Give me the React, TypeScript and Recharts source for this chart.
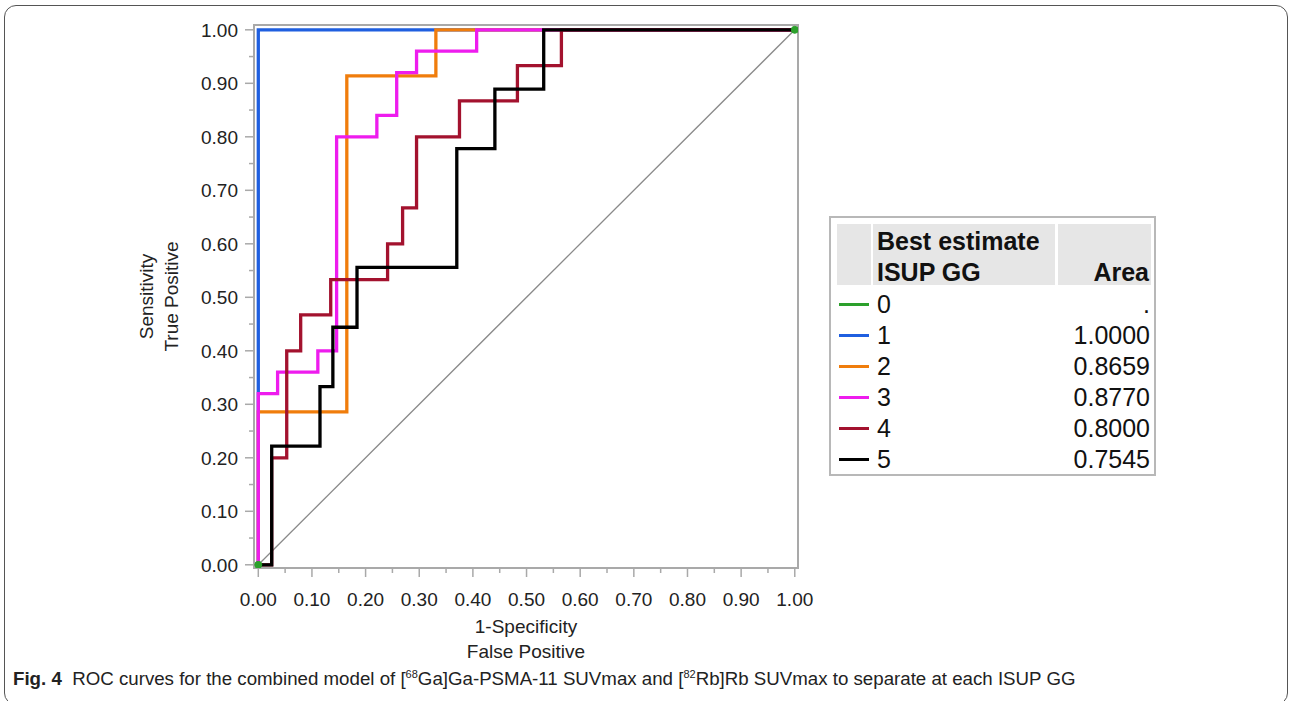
import React from 'react';
import { LineChart, Line, XAxis, YAxis, ReferenceArea, Label } from 'recharts';

// ROC step points: each point is the corner reached after the vertical jump
const grade0 = [
  { x: 0, y: 0 },
  { x: 1, y: 1 },
];
const grade1 = [
  { x: 0, y: 0 },
  { x: 0, y: 1 },
  { x: 1, y: 1 },
];
const grade2 = [
  { x: 0, y: 0 },
  { x: 0, y: 0.286 },
  { x: 0.165, y: 0.914 },
  { x: 0.331, y: 1 },
  { x: 1, y: 1 },
];
const grade3 = [
  { x: 0, y: 0 },
  { x: 0, y: 0.32 },
  { x: 0.036, y: 0.36 },
  { x: 0.111, y: 0.4 },
  { x: 0.146, y: 0.8 },
  { x: 0.221, y: 0.84 },
  { x: 0.258, y: 0.92 },
  { x: 0.295, y: 0.96 },
  { x: 0.407, y: 1 },
  { x: 1, y: 1 },
];
const grade4 = [
  { x: 0, y: 0 },
  { x: 0.025, y: 0.2 },
  { x: 0.053, y: 0.4 },
  { x: 0.079, y: 0.467 },
  { x: 0.135, y: 0.533 },
  { x: 0.241, y: 0.6 },
  { x: 0.269, y: 0.667 },
  { x: 0.295, y: 0.8 },
  { x: 0.375, y: 0.867 },
  { x: 0.483, y: 0.933 },
  { x: 0.565, y: 1 },
  { x: 1, y: 1 },
];
const grade5 = [
  { x: 0, y: 0 },
  { x: 0.025, y: 0.222 },
  { x: 0.115, y: 0.333 },
  { x: 0.139, y: 0.444 },
  { x: 0.184, y: 0.556 },
  { x: 0.37, y: 0.778 },
  { x: 0.441, y: 0.889 },
  { x: 0.532, y: 1 },
  { x: 1, y: 1 },
];
const diagonal = [
  { x: 0, y: 0 },
  { x: 1, y: 1 },
];

const legendLevels = ['0', '1', '2', '3', '4', '5'];
const legendAreas = ['.', '1.0000', '0.8659', '0.8770', '0.8000', '0.7545'];
const legendColors = ['#2ca02c', '#1f5fe0', '#f07d0c', '#ee1cee', '#a3122e', '#000000'];

// major ticks get labels, the ones in between are minor
const axisTicks = [0, 0.05, 0.1, 0.15, 0.2, 0.25, 0.3, 0.35, 0.4, 0.45, 0.5, 0.55, 0.6, 0.65, 0.7, 0.75, 0.8, 0.85, 0.9, 0.95, 1];

const FONT = '"Liberation Sans", Arial, Helvetica, sans-serif';
const GRID = '#a9a9a9';

const isMajor = (v: number) => Math.round(v * 100) % 10 === 0;

function XTick(props: any) {
  const { x, y, payload } = props;
  const major = isMajor(payload.value);
  return (
    <g>
      <line x1={x} x2={x} y1={y} y2={y + (major ? 9 : 5)} stroke={GRID} strokeWidth={1.5} />
      {major && (
        <text x={x} y={y + 38} textAnchor="middle" fontSize={19} fill="#222" fontFamily={FONT}>
          {payload.value.toFixed(2)}
        </text>
      )}
    </g>
  );
}

function YTick(props: any) {
  const { x, y, payload } = props;
  const major = isMajor(payload.value);
  return (
    <g>
      <line x1={x} x2={x - (major ? 9 : 5)} y1={y} y2={y} stroke={GRID} strokeWidth={1.5} />
      {major && (
        <text x={x - 16} y={y + 7} textAnchor="end" fontSize={19} fill="#222" fontFamily={FONT}>
          {payload.value.toFixed(2)}
        </text>
      )}
    </g>
  );
}

function XTitle({ viewBox }: any) {
  const cx = viewBox.x + viewBox.width / 2;
  return (
    <g fontFamily={FONT} fontSize={19} fill="#222" textAnchor="middle">
      <text x={cx} y={viewBox.y + 65}>1-Specificity</text>
      <text x={cx} y={viewBox.y + 90}>False Positive</text>
    </g>
  );
}

function YTitle({ viewBox }: any) {
  const cy = viewBox.y + viewBox.height / 2;
  const x1 = viewBox.x - 11;
  const x2 = viewBox.x + 14;
  return (
    <g fontFamily={FONT} fontSize={19} fill="#222" textAnchor="middle">
      <text x={x1} y={cy} transform={`rotate(-90 ${x1} ${cy})`}>Sensitivity</text>
      <text x={x2} y={cy} transform={`rotate(-90 ${x2} ${cy})`}>True Positive</text>
    </g>
  );
}

const xDomain = [-0.008, 1.006];
const yDomain = [-0.006, 1.009];

export default function App() {
  return (
    <div style={{ position: 'absolute', left: 0, top: 0, width: 1290, height: 701, background: '#fff', overflow: 'hidden' }}>
      <div
        style={{
          position: 'absolute',
          left: 4,
          top: 5,
          width: 1284,
          height: 700,
          border: '1.5px solid #555',
          borderRadius: 12,
          boxSizing: 'border-box',
        }}
      />
      <div style={{ position: 'absolute', left: 0, top: 0 }}>
        <LineChart width={820} height={670} margin={{ top: 25, right: 22, left: 164, bottom: 0 }}>
          <XAxis
            type="number"
            dataKey="x"
            domain={xDomain}
            ticks={axisTicks}
            interval={0}
            allowDataOverflow
            height={102}
            axisLine={false}
            tickLine={false}
            tickSize={0}
            tickMargin={0}
            tick={<XTick />}
          >
            <Label content={<XTitle />} />
          </XAxis>
          <YAxis
            type="number"
            dataKey="y"
            domain={yDomain}
            ticks={axisTicks}
            interval={0}
            allowDataOverflow
            width={90}
            axisLine={false}
            tickLine={false}
            tickSize={0}
            tickMargin={0}
            tick={<YTick />}
          >
            <Label content={<YTitle />} />
          </YAxis>
          <ReferenceArea
            x1={xDomain[0]}
            x2={xDomain[1]}
            y1={yDomain[0]}
            y2={yDomain[1]}
            fill="none"
            stroke={GRID}
            strokeWidth={2}
            ifOverflow="visible"
          />
          <Line data={diagonal} dataKey="y" type="linear" stroke="#8a8a8a" strokeWidth={1.3} dot={false} isAnimationActive={false} />
          <Line data={grade1} dataKey="y" type="stepAfter" stroke={legendColors[1]} strokeWidth={3.3} dot={false} isAnimationActive={false} />
          <Line data={grade2} dataKey="y" type="stepAfter" stroke={legendColors[2]} strokeWidth={3.3} dot={false} isAnimationActive={false} />
          <Line data={grade3} dataKey="y" type="stepAfter" stroke={legendColors[3]} strokeWidth={3.3} dot={false} isAnimationActive={false} />
          <Line data={grade4} dataKey="y" type="stepAfter" stroke={legendColors[4]} strokeWidth={3.3} dot={false} isAnimationActive={false} />
          <Line data={grade5} dataKey="y" type="stepAfter" stroke={legendColors[5]} strokeWidth={3.3} dot={false} isAnimationActive={false} />
          <Line
            data={grade0}
            dataKey="y"
            type="linear"
            stroke="none"
            dot={{ r: 3.5, fill: legendColors[0], stroke: legendColors[0] }}
            isAnimationActive={false}
          />
        </LineChart>
      </div>

      {/* legend table */}
      <div
        style={{
          position: 'absolute',
          left: 829,
          top: 216,
          width: 327,
          height: 260,
          border: '2px solid #b8b8b8',
          boxSizing: 'border-box',
          fontFamily: FONT,
          color: '#111',
        }}
      >
        <div style={{ position: 'absolute', left: 6, top: 6, width: 34, height: 61, background: '#e6e6e6' }} />
        <div style={{ position: 'absolute', left: 42, top: 6, width: 182, height: 61, background: '#e6e6e6' }}>
          <div style={{ position: 'absolute', left: 4, top: 2, fontWeight: 700, fontSize: 25, lineHeight: '31px' }}>
            Best estimate
            <br />
            ISUP GG
          </div>
        </div>
        <div style={{ position: 'absolute', left: 227, top: 6, width: 93, height: 61, background: '#e6e6e6' }}>
          <div style={{ position: 'absolute', right: 2, top: 33, fontWeight: 700, fontSize: 25, lineHeight: '31px' }}>Area</div>
        </div>
        {legendLevels.map((lvl, i) => (
          <div key={lvl} style={{ position: 'absolute', left: 0, top: 71 + i * 31, width: 323, height: 31 }}>
            <div style={{ position: 'absolute', left: 8, top: 14, width: 30, height: 3, background: legendColors[i] }} />
            <div style={{ position: 'absolute', left: 46, top: 0, fontSize: 25, lineHeight: '31px' }}>{lvl}</div>
            <div style={{ position: 'absolute', right: 4, top: 0, fontSize: 25, lineHeight: '31px' }}>{legendAreas[i]}</div>
          </div>
        ))}
      </div>

      {/* figure caption */}
      <div
        style={{
          position: 'absolute',
          left: 13,
          top: 668,
          fontFamily: FONT,
          fontSize: 18.7,
          color: '#222',
          whiteSpace: 'nowrap',
        }}
      >
        <b>Fig. 4</b>&nbsp; ROC curves for the combined model of [<sup style={{ fontSize: 11 }}>68</sup>Ga]Ga-PSMA-11 SUVmax and [
        <sup style={{ fontSize: 11 }}>82</sup>Rb]Rb SUVmax to separate at each ISUP GG
      </div>
    </div>
  );
}
